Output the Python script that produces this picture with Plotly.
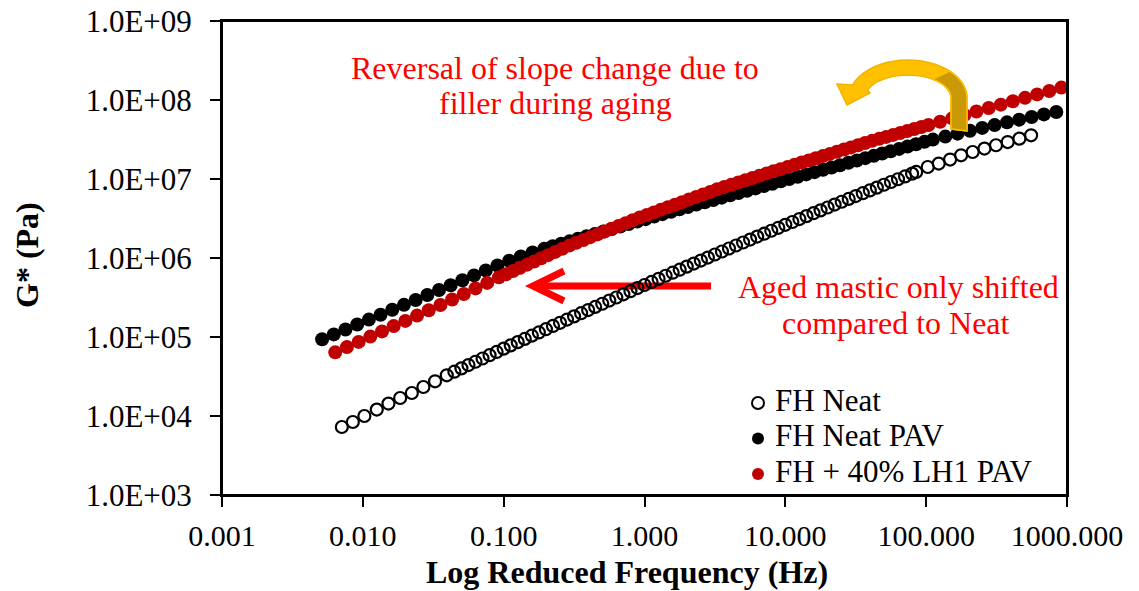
import numpy as np
import plotly.graph_objects as go

# ---------------- data (log10 of reduced frequency [Hz] and log10 of G* [Pa]) ----------------
neat_log_freq = [-2.149, -2.071, -1.989, -1.901, -1.818, -1.735, -1.652, -1.570, -1.487, -1.404,
                 -1.35, -1.30, -1.25, -1.20, -1.15, -1.10, -1.05, -1.00, -0.95, -0.90, -0.85, -0.80,
                 -0.75, -0.70, -0.65, -0.60, -0.55, -0.50, -0.45, -0.40, -0.35, -0.30, -0.25, -0.20,
                 -0.15, -0.10, -0.05, 0.00, 0.05, 0.10, 0.15, 0.20, 0.25, 0.30, 0.35, 0.40, 0.45,
                 0.50, 0.55, 0.60, 0.65, 0.70, 0.75, 0.80, 0.85, 0.90, 0.95, 1.00, 1.05, 1.10, 1.15,
                 1.20, 1.25, 1.30, 1.35, 1.40, 1.45, 1.50, 1.55, 1.60, 1.65, 1.70, 1.75, 1.80, 1.85,
                 1.90, 1.929, 2.011, 2.089, 2.170, 2.248, 2.330, 2.414, 2.496, 2.579, 2.662, 2.745]
neat_log_g = [3.861, 3.924, 4.000, 4.081, 4.157, 4.228, 4.291, 4.367, 4.439, 4.515,
              4.561, 4.603, 4.645, 4.687, 4.728, 4.770, 4.811, 4.853, 4.894, 4.935, 4.976, 5.017,
              5.058, 5.099, 5.140, 5.180, 5.221, 5.261, 5.301, 5.341, 5.381, 5.421, 5.461, 5.500,
              5.540, 5.580, 5.619, 5.658, 5.697, 5.736, 5.775, 5.814, 5.852, 5.891, 5.930, 5.968,
              6.006, 6.044, 6.082, 6.120, 6.158, 6.196, 6.233, 6.271, 6.308, 6.345, 6.382, 6.420,
              6.456, 6.493, 6.530, 6.567, 6.603, 6.639, 6.676, 6.712, 6.748, 6.784, 6.820, 6.855,
              6.891, 6.927, 6.962, 6.997, 7.032, 7.068, 7.089, 7.152, 7.195, 7.246, 7.300, 7.342,
              7.385, 7.427, 7.468, 7.511, 7.553]

pav_log_freq = [-2.289, -2.206, -2.123, -2.040, -1.957, -1.874, -1.791, -1.708, -1.625, -1.542,
                -1.459, -1.376, -1.293, -1.210, -1.127, -1.044, -0.961, -0.878, -0.795, -0.712,
                -0.652, -0.592, -0.532, -0.472, -0.412, -0.352, -0.292, -0.232, -0.172, -0.112,
                -0.052, 0.008, 0.068, 0.128, 0.188, 0.248, 0.308, 0.368, 0.428, 0.488, 0.548,
                0.608, 0.668, 0.728, 0.788, 0.848, 0.908, 0.968, 1.028, 1.088, 1.148, 1.208,
                1.268, 1.328, 1.388, 1.448, 1.508, 1.568, 1.628, 1.688, 1.748, 1.808, 1.868,
                1.928, 1.988, 2.048, 2.136, 2.223, 2.311, 2.398, 2.486, 2.574, 2.661, 2.749,
                2.836, 2.924]
pav_log_g = [4.971, 5.033, 5.095, 5.158, 5.220, 5.282, 5.344, 5.407, 5.469, 5.531,
             5.594, 5.656, 5.718, 5.780, 5.843, 5.905, 5.965, 6.020, 6.070, 6.116,
             6.149, 6.180, 6.211, 6.243, 6.274, 6.305, 6.336, 6.368, 6.399, 6.430,
             6.461, 6.492, 6.524, 6.555, 6.586, 6.617, 6.646, 6.676, 6.705, 6.734, 6.764,
             6.793, 6.823, 6.852, 6.881, 6.911, 6.940, 6.970, 6.999, 7.028, 7.058, 7.087,
             7.117, 7.146, 7.175, 7.205, 7.234, 7.264, 7.293, 7.322, 7.352, 7.381, 7.411,
             7.440, 7.470, 7.499, 7.537, 7.574, 7.611, 7.647, 7.682, 7.717, 7.751, 7.785,
             7.818, 7.848]

lh1_log_freq = [-2.196, -2.113, -2.030, -1.947, -1.864, -1.781, -1.698, -1.615, -1.532, -1.449,
                -1.366, -1.283, -1.200, -1.117, -1.034, -0.984, -0.934, -0.884, -0.834, -0.784,
                -0.734, -0.684, -0.634, -0.584, -0.534, -0.484, -0.434, -0.384, -0.334, -0.284,
                -0.234, -0.184, -0.134, -0.084, -0.034, 0.016, 0.066, 0.116, 0.166, 0.216, 0.266,
                0.316, 0.366, 0.416, 0.466, 0.516, 0.566, 0.616, 0.666, 0.716, 0.766, 0.816,
                0.866, 0.916, 0.966, 1.016, 1.066, 1.116, 1.166, 1.216, 1.266, 1.316, 1.366,
                1.416, 1.466, 1.516, 1.566, 1.616, 1.666, 1.716, 1.766, 1.816, 1.866, 1.916,
                1.966, 2.016, 2.099, 2.185, 2.271, 2.357, 2.444, 2.530, 2.616, 2.702, 2.788,
                2.874, 2.960]
lh1_log_g = [4.806, 4.872, 4.938, 5.005, 5.071, 5.138, 5.204, 5.271, 5.338, 5.405,
             5.475, 5.545, 5.615, 5.685, 5.755, 5.795, 5.835, 5.876, 5.916, 5.956,
             5.996, 6.036, 6.077, 6.117, 6.157, 6.193, 6.228, 6.264, 6.299, 6.335,
             6.370, 6.406, 6.441, 6.477, 6.512, 6.545, 6.577, 6.610, 6.642, 6.675, 6.707,
             6.740, 6.772, 6.805, 6.837, 6.870, 6.898, 6.927, 6.955, 6.984, 7.012, 7.041,
             7.069, 7.098, 7.125, 7.153, 7.180, 7.208, 7.235, 7.263, 7.290, 7.318, 7.345,
             7.373, 7.400, 7.428, 7.455, 7.483, 7.508, 7.533, 7.558, 7.583, 7.608, 7.633,
             7.658, 7.683, 7.725, 7.768, 7.811, 7.855, 7.898, 7.941, 7.984, 8.027, 8.071,
             8.114, 8.157]

series_names = ["FH Neat", "FH Neat PAV", "FH + 40% LH1 PAV"]
series_colors = ["black", "black", "#C00000"]
x_tick_vals = [0.001, 0.01, 0.1, 1, 10, 100, 1000]
x_tick_text = ["0.001", "0.010", "0.100", "1.000", "10.000", "100.000", "1000.000"]
y_tick_vals = [1e3, 1e4, 1e5, 1e6, 1e7, 1e8, 1e9]
y_tick_text = ["1.0E+03", "1.0E+04", "1.0E+05", "1.0E+06", "1.0E+07", "1.0E+08", "1.0E+09"]

# ---------------- layout geometry ----------------
OFF = 0                      # page margin removed by the post script below
W, H = 1139 - OFF, 591 - OFF
L, T = 222 - OFF, 21 - OFF
PW, PH = 845, 474
R, B = W - L - PW, H - T - PH
FONT = "Liberation Serif, Times New Roman, serif"


def P(px, py):
    """pixel position in the screenshot -> paper coordinates"""
    return (px - OFF - L) / PW, (T + PH - (py - OFF)) / PH


def path(points, close=True):
    s = ""
    for i, (px, py) in enumerate(points):
        x, y = P(px, py)
        s += ("M" if i == 0 else "L") + f"{x:.5f},{y:.5f} "
    return s + ("Z" if close else "")


fig = go.Figure()
fig.add_trace(go.Scatter(
    x=10 ** np.array(neat_log_freq), y=10 ** np.array(neat_log_g), mode="markers",
    name=series_names[0], showlegend=False,
    marker=dict(symbol="circle-open", size=12, color=series_colors[0],
                line=dict(color=series_colors[0], width=2.2))))
fig.add_trace(go.Scatter(
    x=10 ** np.array(pav_log_freq), y=10 ** np.array(pav_log_g), mode="markers",
    name=series_names[1], showlegend=False,
    marker=dict(symbol="circle", size=14, color=series_colors[1], line=dict(width=0))))
fig.add_trace(go.Scatter(
    x=10 ** np.array(lh1_log_freq), y=10 ** np.array(lh1_log_g), mode="markers",
    name=series_names[2], showlegend=False,
    marker=dict(symbol="circle", size=14, color=series_colors[2], line=dict(width=0))))

axis_common = dict(showline=True, linecolor="black", linewidth=2, mirror=True,
                   ticks="outside", ticklen=10, tickwidth=1.5, tickcolor="black",
                   showgrid=False, zeroline=False, automargin=False,
                   ticklabeloverflow="allow")
fig.update_xaxes(type="log", range=[-3, 3], tickvals=x_tick_vals, ticktext=x_tick_text,
                 ticklabelstandoff=3, tickfont=dict(family=FONT, size=30, color="black"),
                 **axis_common)
fig.update_yaxes(type="log", range=[3, 9], tickvals=y_tick_vals, ticktext=y_tick_text,
                 ticklabelstandoff=12, tickfont=dict(family=FONT, size=31, color="black"),
                 **axis_common)

shapes = []
# plot frame
shapes.append(dict(type="rect", xref="paper", yref="paper", x0=0, x1=1, y0=0, y1=1,
                   line=dict(color="black", width=2), fillcolor="rgba(0,0,0,0)", layer="above"))
# red straight arrow
shapes.append(dict(type="path", xref="paper", yref="paper", layer="below",
                   path=path([(711, 286), (533, 286)], close=False),
                   line=dict(color="#FF0000", width=7)))
shapes.append(dict(type="path", xref="paper", yref="paper", layer="below",
                   path=path([(564, 271), (533, 286), (564, 301)], close=False),
                   line=dict(color="#FF0000", width=7)))

# gold curved arrow (decoration): elliptical arc + straight tail + arrow head
cx, cy = 908, 98
ro = (59, 38)
ri = (43, 23)


def arc(r, a0, a1, n=24):
    t = np.radians(np.linspace(a0, a1, n))
    return [(cx + r[0] * np.cos(a), cy - r[1] * np.sin(a)) for a in t]


outer = arc(ro, 160, 0)
inner = arc(ri, 0, 160)
gold_outline = ([(837, 84)] + outer + [(967, 131), (951, 129)] + inner
                + [(870, 93), (847, 105)])
shapes.append(dict(type="path", xref="paper", yref="paper", layer="above",
                   path=path(gold_outline), fillcolor="#FFC000",
                   line=dict(color="#F2B400", width=1.5)))
gold_dark = arc(ro, 45, 0, 10) + [(967, 131), (951, 129)] + arc(ri, 0, 55, 10)
shapes.append(dict(type="path", xref="paper", yref="paper", layer="above",
                   path=path(gold_dark), fillcolor="#C99A06",
                   line=dict(color="#FFC000", width=1.5)))

# legend (symbols drawn as shapes, labels as text)
legend_rows = [403, 438.5, 474]
for i, ry in enumerate(legend_rows):
    x0, y0 = P(752, ry + 6)
    x1, y1 = P(764, ry - 6)
    if i == 0:
        shapes.append(dict(type="circle", xref="paper", yref="paper", x0=x0, x1=x1, y0=y0, y1=y1,
                           line=dict(color="black", width=2), fillcolor="rgba(0,0,0,0)"))
    else:
        shapes.append(dict(type="circle", xref="paper", yref="paper", x0=x0, x1=x1, y0=y0, y1=y1,
                           line=dict(color=series_colors[i], width=0), fillcolor=series_colors[i]))

annotations = []


def note(text, px, py, size=32, color="#FF0000", bold=False, angle=0, xanchor="center"):
    x, y = P(px, py)
    annotations.append(dict(text=f"<b>{text}</b>" if bold else text, x=x, y=y,
                            xref="paper", yref="paper", showarrow=False, textangle=angle,
                            xanchor=xanchor, yanchor="middle",
                            font=dict(family=FONT, size=size, color=color)))


note("Reversal of slope change due to", 555, 68)
note("filler during aging", 555, 103)
note("Aged mastic only shifted", 898, 287)
note("compared to Neat", 896, 323)
note("Log Reduced Frequency (Hz)", 627, 572, size=32, color="black", bold=True)
note("G* (Pa)", 27, 255, size=32, color="black", bold=True, angle=-90)
for i, ry in enumerate(legend_rows):
    note(series_names[i], 773, ry - 3, size=31, color="black", xanchor="left")

fig.update_layout(
    width=W, height=H,
    margin=dict(l=L, r=R, t=T, b=B),
    paper_bgcolor="white", plot_bgcolor="white",
    font=dict(family=FONT, size=30, color="black"),
    shapes=shapes, annotations=annotations,
    showlegend=False,
)

fig.write_html("out.html", config={"displayModeBar": False},
               post_script="document.body.style.margin='0px';")
